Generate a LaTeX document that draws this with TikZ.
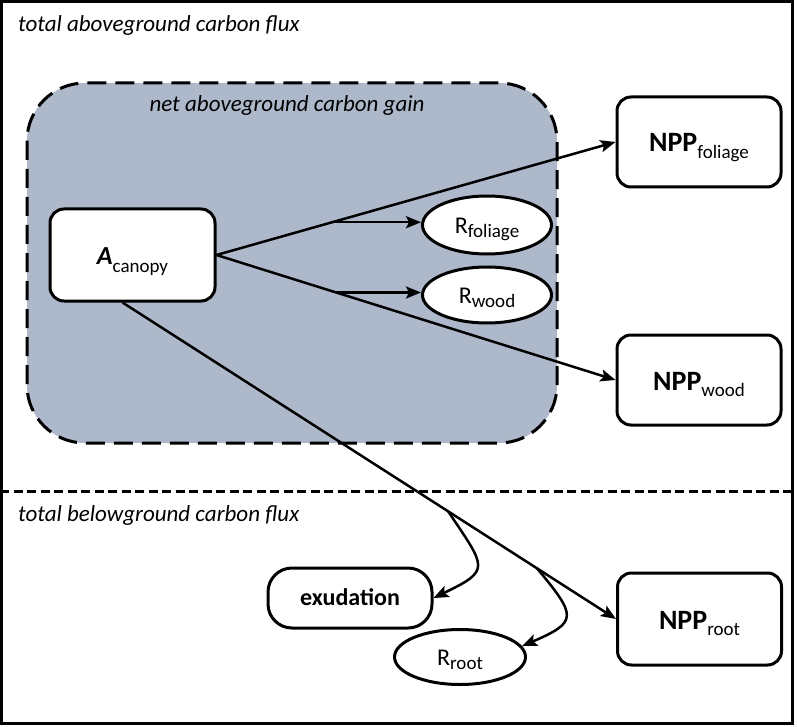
\documentclass[tikz,border=0pt]{standalone}
\usepackage{fontspec}
\setmainfont{Carlito}
\usetikzlibrary{arrows.meta,calc,shapes.geometric}

\definecolor{gaingrey}{RGB}{173,185,202}

% lowered index text, in normal weight
\newcommand{\fluxsub}[2][6.7pt]{\raisebox{-#1}{\fontsize{19}{19}\selectfont\mdseries\upshape #2}}

\tikzset{
    box/.style={draw, line width=3pt, rounded corners=14pt, fill=white,
        minimum width=164pt, minimum height=90pt, inner sep=0pt,
        text height=24pt, text depth=4pt,
        font=\fontsize{28}{32}\selectfont\bfseries},
    resp/.style={draw, ellipse, line width=3pt, fill=white,
        minimum width=129pt, minimum height=58pt, inner sep=0pt,
        text height=21pt, text depth=4pt,
        font=\fontsize{24}{27}\selectfont},
    seclabel/.style={inner sep=0pt, font=\fontsize{23}{26}\selectfont\itshape},
    flux/.style={line width=2.5pt, -{Stealth[length=15pt, width=12pt, inset=3pt]}},
    divider/.style={line width=2.8pt, dash pattern=on 9pt off 4.5pt},
}

\begin{document}
\begin{tikzpicture}[x=1pt, y=-1pt]
    \useasboundingbox (0,0) rectangle (797,727);

    % the outer frame
    \draw[line width=3.5pt] (1.5,1.5) rectangle (792.5,723.5);
    % the line between above and below ground
    \draw[divider] (0,491.5) -- (792.5,491.5);

    % the labels of the two zones
    \node[seclabel, anchor=base west] (abovelbl) at (18,31.5) {total aboveground carbon flux};
    \node[seclabel, anchor=base west] (belowlbl) at (18,521.5) {total belowground carbon flux};

    % the grey box of the net gain
    \draw[line width=3pt, dash pattern=on 19pt off 9pt, fill=gaingrey, rounded corners=58pt]
        (27,83) rectangle (557,443);
    \node[seclabel, anchor=base] (gainlbl) at (287,112) {net aboveground carbon gain};

    % the boxes
    \node[box, minimum width=165pt, minimum height=92pt] (acanopy) at (132.5,255)
        {{\fontsize{26}{30}\selectfont\itshape A}\fluxsub[7.3pt]{canopy}};
    \node[box] (nppfol) at (699,142) {NPP\fluxsub{foliage}};
    \node[box] (nppwood) at (699,380) {NPP\fluxsub{wood}};
    \node[box, minimum height=92pt] (npproot) at (699.5,619) {NPP\fluxsub{root}};
    \node[box, minimum height=60pt, rounded corners=24pt, text height=20pt, text depth=4.6pt,
        font=\fontsize{24}{28}\selectfont\bfseries] (exud) at (350,598) {exudation};

    % the ellipses of respiration
    \node[resp] (rfol) at (487,225) {R\fluxsub[4pt]{foliage}};
    \node[resp, minimum height=56pt] (rwood) at (487,295) {R\fluxsub[4pt]{wood}};
    \node[resp, minimum width=131pt, minimum height=55pt] (rroot) at (460,657) {R\fluxsub[4pt]{root}};

    % the points where the fluxes split
    \coordinate (rootstart) at ($(acanopy.south)+(-10,0)$);
    \coordinate (forkfol) at ($(acanopy.east)!0.29!(nppfol.west)$);
    \coordinate (forkwood) at ($(acanopy.east)!0.30!(nppwood.west)$);
    \coordinate (forkexud) at ($(rootstart)!0.66!(npproot.west)$);
    \coordinate (forkroot) at ($(rootstart)!0.84!(npproot.west)$);

    % the fluxes out of the canopy
    \draw[flux] (acanopy.east) -- (nppfol.west);
    \draw[flux] (acanopy.east) -- (nppwood.west);
    \draw[flux] (rootstart) -- (npproot.west);

    % the branches to the respiration and exudation
    \draw[flux] (forkfol) -- (forkfol -| rfol.west);
    \draw[flux] (forkwood) -- (forkwood -| rwood.west);
    \draw[flux] (forkexud) .. controls +(38,57) and +(58,-28) .. (exud.east);
    \draw[flux] (forkroot) .. controls +(40,48) and +(56,-24) .. (rroot.10);
\end{tikzpicture}
\end{document}
